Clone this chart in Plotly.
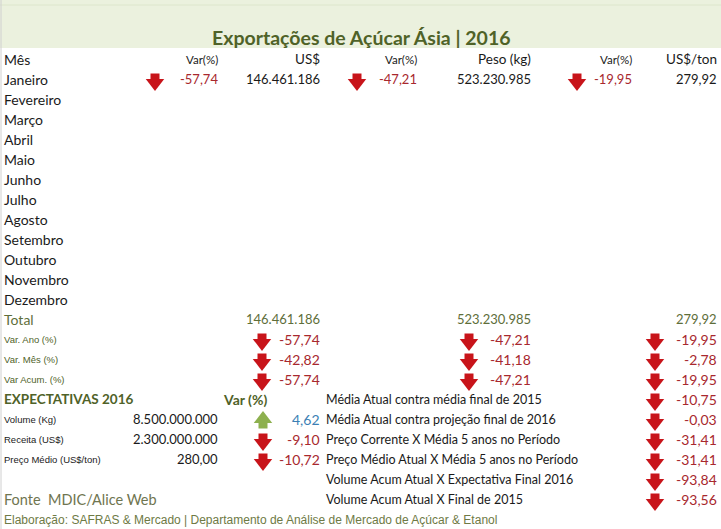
import plotly.graph_objects as go

meses = ["Janeiro", "Fevereiro", "Março", "Abril", "Maio", "Junho", "Julho",
         "Agosto", "Setembro", "Outubro", "Novembro", "Dezembro"]
var_usd_mes = [-57.74]
usd_mes = [146461186]
var_peso_mes = [-47.21]
peso_mes = [523230985]
var_preco_mes = [-19.95]
preco_mes = [279.92]

total_usd = 146461186
total_peso = 523230985
total_preco = 279.92

var_labels = ["Var. Ano (%)", "Var. Mês (%)", "Var Acum. (%)"]
var_usd = [-57.74, -42.82, -57.74]
var_peso = [-47.21, -41.18, -47.21]
var_preco = [-19.95, -2.78, -19.95]

exp_labels = ["Volume (Kg)", "Receita (US$)", "Preço Médio (US$/ton)"]
exp_values = ["8.500.000.000", "2.300.000.000", "280,00"]
exp_var = [4.62, -9.10, -10.72]

comp_labels = ["Média Atual contra média final de 2015",
               "Média Atual contra projeção final de 2016",
               "Preço Corrente X Média 5 anos no Período",
               "Preço Médio Atual X Média 5 anos no Período",
               "Volume Acum Atual X Expectativa Final 2016",
               "Volume Acum Atual X Final de 2015"]
comp_values = [-10.75, -0.03, -31.41, -31.41, -93.84, -93.56]

W, H = 721, 529
FONT = "Lato"
RED = "#A8282E"
BLUE = "#3C7FB4"
OLIVE = "#4F6228"
BLACK = "#1a1a1a"


def br_int(v):
    return f"{v:,}".replace(",", ".")


def br_dec(v):
    return f"{v:,.2f}".replace(",", "X").replace(".", ",").replace("X", ".")


def row_y(i):
    return 59 + 20 * i


annotations = []


def txt(x, y, s, size=14, color=BLACK, anchor="right", bold=False, family=FONT):
    if bold:
        s = "<b>" + s + "</b>"
    annotations.append(dict(x=x, y=y, text=s, showarrow=False, xanchor=anchor,
                            yanchor="middle", xref="x", yref="y", borderpad=0,
                            font=dict(family=family, size=size, color=color)))


arrows_x, arrows_y, arrows_up = [], [], []


def arrow(x, y, v):
    arrows_x.append(x)
    arrows_y.append(y)
    arrows_up.append(v >= 0)


# header row
txt(3, row_y(0), "Mês", anchor="left")
txt(219, row_y(0), "Var(%)", size=11.5)
txt(321, row_y(0), "US$", size=13.5)
txt(418, row_y(0), "Var(%)", size=11.5)
txt(532, row_y(0), "Peso (kg)", size=13.5)
txt(633, row_y(0), "Var(%)", size=11.5)
txt(718, row_y(0), "US$/ton", size=13.5)

# months
for i, m in enumerate(meses):
    y = row_y(i + 1)
    txt(3, y, m, anchor="left")
    if i < len(usd_mes):
        arrow(155, y, var_usd_mes[i])
        txt(219, y, br_dec(var_usd_mes[i]), size=13, color=RED)
        txt(321, y, br_int(usd_mes[i]), size=13)
        arrow(357, y, var_peso_mes[i])
        txt(418, y, br_dec(var_peso_mes[i]), size=13, color=RED)
        txt(532, y, br_int(peso_mes[i]), size=13)
        arrow(577, y, var_preco_mes[i])
        txt(633, y, br_dec(var_preco_mes[i]), size=13, color=RED)
        txt(718, y, br_dec(preco_mes[i]), size=13)

# total
y = row_y(13)
txt(3, y, "Total", color="#5E6E3A", anchor="left")
txt(321, y, br_int(total_usd), size=13, color="#5E6E3A")
txt(532, y, br_int(total_peso), size=13, color="#5E6E3A")
txt(718, y, br_dec(total_preco), size=13, color="#5E6E3A")

for i, lab in enumerate(var_labels):
    y = row_y(14 + i)
    txt(3, y, lab, size=9.5, color="#4F6228", anchor="left", family="Liberation Sans")
    arrow(262, y, var_usd[i])
    txt(321, y, br_dec(var_usd[i]), size=14, color=RED)
    arrow(469, y, var_peso[i])
    txt(532, y, br_dec(var_peso[i]), size=14, color=RED)
    arrow(655, y, var_preco[i])
    txt(718, y, br_dec(var_preco[i]), size=14, color=RED)

# expectativas
y = row_y(17)
txt(3, y, "EXPECTATIVAS 2016", size=13.5, color=OLIVE, anchor="left", bold=True)
txt(268, y, "Var (%)", size=14, color=OLIVE, bold=True)

for i, lab in enumerate(exp_labels):
    y = row_y(18 + i)
    txt(3, y, lab, size=9.5, anchor="left", family="Liberation Sans")
    txt(219, y, exp_values[i], size=13)
    arrow(263, y, exp_var[i])
    txt(321, y, br_dec(exp_var[i]), size=14, color=BLUE if exp_var[i] >= 0 else RED)

for i, lab in enumerate(comp_labels):
    y = row_y(17 + i)
    txt(325, y, lab, size=12.5, anchor="left")
    arrow(655, y, comp_values[i])
    txt(718, y, br_dec(comp_values[i]), size=14, color=RED)

txt(3, row_y(22), "Fonte  MDIC/Alice Web", size=14.5, color="#6F7550", anchor="left")
txt(3, 520, "Elaboração: SAFRAS & Mercado | Departamento de Análise de Mercado de Açúcar & Etanol",
    size=12, color="#6E7A45", anchor="left", family="Liberation Sans")

# title
txt(361, 37, "Exportações de Açúcar Ásia | 2016", size=19.5, color=OLIVE, anchor="center", bold=True)

fig = go.Figure()

# block arrows: shaft (square) + head (triangle)
down_x = [x for x, u in zip(arrows_x, arrows_up) if not u]
down_y = [y for y, u in zip(arrows_y, arrows_up) if not u]
up_x = [x for x, u in zip(arrows_x, arrows_up) if u]
up_y = [y for y, u in zip(arrows_y, arrows_up) if u]

fig.add_trace(go.Scatter(x=down_x, y=[v - 1 for v in down_y], mode="markers",
                         marker=dict(symbol="square", size=9, color="#C8141A", line_width=0),
                         hoverinfo="skip"))
fig.add_trace(go.Scatter(x=down_x, y=[v + 4 for v in down_y], mode="markers",
                         marker=dict(symbol="triangle-down", size=16, color="#C8141A", line_width=0),
                         hoverinfo="skip"))
fig.add_trace(go.Scatter(x=up_x, y=[v + 5 for v in up_y], mode="markers",
                         marker=dict(symbol="square", size=9, color="#8DB04E", line_width=0),
                         hoverinfo="skip"))
fig.add_trace(go.Scatter(x=up_x, y=[v for v in up_y], mode="markers",
                         marker=dict(symbol="triangle-up", size=16, color="#8DB04E", line_width=0),
                         hoverinfo="skip"))

fig.update_layout(
    width=W, height=H,
    margin=dict(l=0, r=0, t=0, b=0),
    paper_bgcolor="white", plot_bgcolor="white",
    showlegend=False,
    xaxis=dict(range=[0, W], visible=False, fixedrange=True),
    yaxis=dict(range=[H, 0], visible=False, fixedrange=True),
    annotations=annotations,
    shapes=[dict(type="rect", xref="x", yref="y", x0=0, x1=W, y0=0, y1=48,
                 fillcolor="#EBF1DE", line_width=0, layer="below"),
            dict(type="line", xref="x", yref="y", x0=0, x1=W, y0=5, y1=5,
                 line=dict(color="#DDE6CC", width=1), layer="below"),
            dict(type="line", xref="x", yref="y", x0=1, x1=1, y0=0, y1=H,
                 line=dict(color="#D0D0D0", width=1), layer="below")],
)

fig.write_html("out.html", config={"displayModeBar": False},
               post_script="document.body.style.margin='0';document.body.style.overflow='hidden';")
